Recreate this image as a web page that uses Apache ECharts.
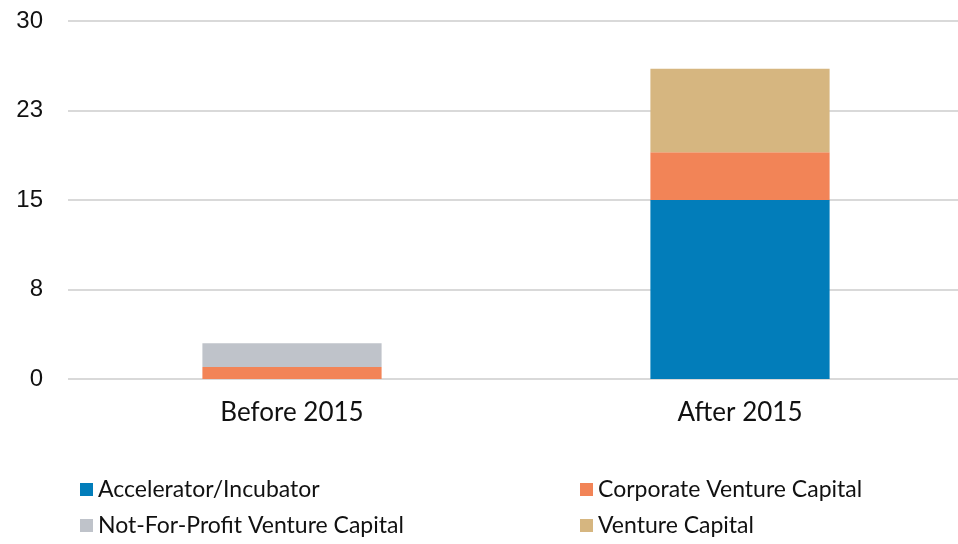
<!DOCTYPE html>
<html>
<head>
    <meta charset="utf-8">
    <title>Before / After 2015</title>
    <script src="https://cdn.jsdelivr.net/npm/echarts@6/dist/echarts.min.js"></script>
    <style>
        html, body { margin: 0; padding: 0; background: #fff; }
        #chart { width: 958px; height: 544px; }
    </style>
</head>
<body>
    <div id="chart"></div>
    <script type="text/javascript">
    // data
    var categories = ['Before 2015', 'After 2015'];
    var accelerator = [0, 15];
    var corporateVC = [1, 4];
    var notForProfitVC = [2, 0];
    var ventureCapital = [0, 7];
    var yTicks = [0, 7.5, 15, 22.5, 30];

    var colors = {
        accelerator: '#027dba',
        corporate: '#f28457',
        nfp: '#bfc3ca',
        vc: '#d6b680'
    };

    function bar(name, data, color) {
        return {
            name: name,
            type: 'bar',
            stack: 'total',
            barWidth: '40%',
            data: data,
            itemStyle: { color: color }
        };
    }

    // one legend per entry, laid out as 2 x 2
    function legendItem(name, left, top) {
        return {
            left: left, top: top, padding: 0,
            itemWidth: 13, itemHeight: 13, icon: 'rect',
            textStyle: { fontFamily: 'Lato', fontSize: 23, color: '#111' },
            data: [name]
        };
    }

    var myChart = echarts.init(document.getElementById('chart'));
    var option = {
        animation: false,
        grid: { left: 68, top: 21, bottom: 165, width: 896, containLabel: false, outerBoundsMode: 'none' },
        legend: [
            legendItem('Accelerator/Incubator', 80, 478),
            legendItem('Corporate Venture Capital', 580, 478),
            legendItem('Not-For-Profit Venture Capital', 80, 514),
            legendItem('Venture Capital', 580, 514)
        ],
        xAxis: {
            type: 'category',
            data: categories,
            axisLine: { show: false },
            axisTick: { show: false },
            axisLabel: { fontFamily: 'Lato', fontSize: 26, color: '#111', margin: 21 }
        },
        yAxis: {
            type: 'value',
            min: yTicks[0],
            max: yTicks[yTicks.length - 1],
            interval: yTicks[1] - yTicks[0],
            axisLine: { show: false },
            axisTick: { show: false },
            axisLabel: {
                fontFamily: 'Liberation Sans', fontSize: 24, color: '#111', margin: 25,
                formatter: function (v) { return Math.round(v); }
            },
            splitLine: { lineStyle: { color: '#d9d9d9', width: 2 } }
        },
        series: [
            bar('Accelerator/Incubator', accelerator, colors.accelerator),
            bar('Corporate Venture Capital', corporateVC, colors.corporate),
            bar('Not-For-Profit Venture Capital', notForProfitVC, colors.nfp),
            bar('Venture Capital', ventureCapital, colors.vc)
        ]
    };
    myChart.setOption(option);
    </script>
</body>
</html>
